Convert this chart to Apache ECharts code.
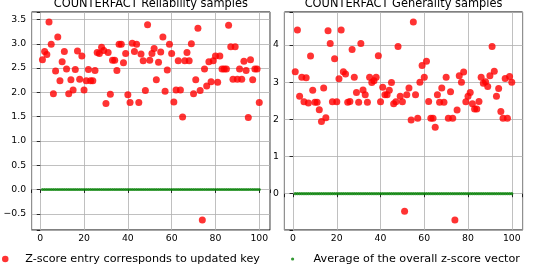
<!DOCTYPE html>
<html><head><meta charset="utf-8">
<script src="https://cdn.jsdelivr.net/npm/echarts@6/dist/echarts.min.js"></script>
<style>html,body{margin:0;padding:0;background:#fff}#c{width:535px;height:271px}</style>
</head><body><div id="c"></div>
<script>
// sample index (x positions 1..100)
const sampleIds = [];
for (let i = 1; i <= 100; i++) sampleIds.push(i);

// COUNTERFACT Reliability samples: z-score entry of updated key
const reliabilityZ = [
  2.67, 2.84, 2.78, 3.45, 2.99, 1.97, 2.44, 3.14, 2.24, 2.63,
  2.84, 2.48, 1.97, 2.26, 2.05, 2.47, 2.85, 2.27, 2.75, 2.05,
  2.24, 2.47, 2.24, 2.24, 2.45, 2.82, 2.80, 2.93, 2.86, 1.77,
  2.82, 1.96, 2.66, 2.66, 2.45, 2.99, 2.99, 2.61, 2.80, 1.95,
  1.79, 3.01, 2.84, 2.99, 1.79, 2.79, 2.65, 2.04, 3.39, 2.66,
  2.80, 2.90, 2.26, 2.62, 2.83, 3.14, 2.02, 2.46, 2.99, 2.80,
  1.80, 2.05, 2.65, 2.05, 1.49, 2.65, 2.82, 2.65, 3.00, 1.97,
  2.26, 3.32, 2.04, -0.63, 2.48, 2.13, 2.63, 2.22, 2.65, 2.75,
  2.21, 2.75, 2.48, 2.48, 2.48, 3.38, 2.94, 2.27, 2.94, 2.27,
  2.48, 2.27, 2.64, 2.45, 1.48, 2.67, 2.26, 2.48, 2.48, 1.79
];
// COUNTERFACT Generality samples: z-score entry of updated key
const generalityZ = [
  3.28, 4.40, 2.62, 3.13, 2.47, 3.12, 2.44, 3.70, 2.78, 2.46,
  2.46, 2.26, 1.94, 2.84, 2.04, 4.38, 4.04, 2.47, 3.63, 2.47,
  3.09, 4.40, 3.28, 3.22, 2.46, 2.48, 3.88, 3.13, 2.72, 2.46,
  4.04, 2.79, 2.66, 2.46, 3.13, 2.99, 3.04, 3.13, 3.71, 2.47,
  2.86, 2.66, 2.66, 2.78, 2.99, 2.42, 2.47, 3.96, 2.62, 2.47,
  -0.47, 2.66, 2.84, 1.98, 4.62, 2.66, 2.03, 3.00, 3.45, 3.13,
  3.56, 2.48, 2.03, 2.03, 1.79, 2.66, 2.46, 2.84, 2.46, 3.13,
  2.03, 2.74, 2.03, -0.71, 2.25, 3.17, 3.00, 3.27, 2.47, 2.62,
  2.72, 2.42, 2.28, 2.28, 2.48, 3.13, 2.97, 3.01, 2.88, 3.17,
  3.96, 3.29, 2.62, 2.83, 2.21, 2.03, 3.10, 2.03, 3.15, 3.00
];
// average of the overall z-score vector (same in both panels)
const reliabilityAvg = [
  0,0,0,0,0,0,0,0,0,0, 0,0,0,0,0,0,0,0,0,0, 0,0,0,0,0,0,0,0,0,0, 0,0,0,0,0,0,0,0,0,0,
  0,0,0,0,0,0,0,0,0,0, 0,0,0,0,0,0,0,0,0,0, 0,0,0,0,0,0,0,0,0,0, 0,0,0,0,0,0,0,0,0,0,
  0,0,0,0,0,0,0,0,0,0, 0,0,0,0,0,0,0,0,0,0
];
const generalityAvg = [
  0,0,0,0,0,0,0,0,0,0, 0,0,0,0,0,0,0,0,0,0, 0,0,0,0,0,0,0,0,0,0, 0,0,0,0,0,0,0,0,0,0,
  0,0,0,0,0,0,0,0,0,0, 0,0,0,0,0,0,0,0,0,0, 0,0,0,0,0,0,0,0,0,0, 0,0,0,0,0,0,0,0,0,0,
  0,0,0,0,0,0,0,0,0,0, 0,0,0,0,0,0,0,0,0,0
];
const panelTitles = ['COUNTERFACT Reliability samples', 'COUNTERFACT Generality samples'];
const seriesNames = ['Z-score entry corresponds to updated key', 'Average of the overall z-score vector'];

const FONT = 'DejaVu Sans';
function pad(vals) { // matplotlib-style 5% margins
  let mn = Math.min(...vals), mx = Math.max(...vals), r = mx - mn;
  return [mn - 0.05 * r, mx + 0.05 * r];
}
const xr = pad(sampleIds);
const yr1 = pad(reliabilityZ.concat(reliabilityAvg));
const yr2 = pad(generalityZ.concat(generalityAvg));

function fmt(step, dec) {
  return v => {
    const k = v / step;
    if (Math.abs(k - Math.round(k)) > 1e-6) return '';
    return (Math.round(k) * step).toFixed(dec).replace('-', '\u2212');
  };
}
function xAx(gi) {
  return {
    type: 'value', gridIndex: gi, min: xr[0], max: xr[1], splitNumber: 5,
    axisLine: {show: false},
    axisTick: {show: true, length: 3.5, lineStyle: {color: '#000', width: 0.8}},
    axisLabel: {color: '#000', fontSize: 9.3, fontFamily: FONT, margin: 4.5, formatter: fmt(20, 0)},
    splitLine: {show: true, lineStyle: {color: '#b0b0b0', width: 0.8}}
  };
}
function yAx(gi, r, split, step, dec) {
  return {
    type: 'value', gridIndex: gi, min: r[0], max: r[1], splitNumber: split,
    axisLine: {show: false},
    axisTick: {show: true, length: 3.5, lineStyle: {color: '#000', width: 0.8}},
    axisLabel: {color: '#000', fontSize: 9.3, fontFamily: FONT, margin: 5.5, formatter: fmt(step, dec)},
    splitLine: {show: true, lineStyle: {color: '#b0b0b0', width: 0.8}}
  };
}
const grids = [
  {left: 31.6, top: 12, width: 238.5, height: 218},
  {left: 284.4, top: 12, width: 238.2, height: 218}
].map(g => Object.assign(g, {show: true, borderColor: '#000', borderWidth: 1, backgroundColor: 'transparent'}));

function pts(vals) { return sampleIds.map((x, i) => [x, vals[i]]); }

const option = {
  animation: false,
  backgroundColor: '#fff',
  title: panelTitles.map((t, i) => ({
    text: t, left: grids[i].left + grids[i].width / 2, textAlign: 'center', top: -1, padding: 0,
    textStyle: {fontSize: 11.4, fontWeight: 'normal', color: '#000', fontFamily: FONT}
  })),
  legend: [
    {data: [seriesNames[0]], left: 2, top: 253.5, itemWidth: 30, itemHeight: 6.5, icon: 'circle', padding: 0,
     selectedMode: false, textStyle: {fontSize: 11.2, color: '#000', fontFamily: FONT}},
    {data: [seriesNames[1]], left: 291, top: 253.5, itemWidth: 32, itemHeight: 3.2, icon: 'circle', padding: 0,
     selectedMode: false, textStyle: {fontSize: 11.2, color: '#000', fontFamily: FONT}}
  ],
  grid: grids,
  xAxis: [xAx(0), xAx(1)],
  yAxis: [yAx(0, yr1, 8, 0.5, 1), yAx(1, yr2, 5, 1, 0)],
  series: [
    {type: 'scatter', name: seriesNames[0], xAxisIndex: 0, yAxisIndex: 0, data: pts(reliabilityZ),
     symbolSize: 7, itemStyle: {color: '#ff0000'}, silent: true},
    {type: 'scatter', name: seriesNames[1], xAxisIndex: 0, yAxisIndex: 0, data: pts(reliabilityAvg),
     symbolSize: 3.2, itemStyle: {color: '#008000'}, silent: true},
    {type: 'scatter', name: seriesNames[0], xAxisIndex: 1, yAxisIndex: 1, data: pts(generalityZ),
     symbolSize: 7, itemStyle: {color: '#ff0000'}, silent: true},
    {type: 'scatter', name: seriesNames[1], xAxisIndex: 1, yAxisIndex: 1, data: pts(generalityAvg),
     symbolSize: 3.2, itemStyle: {color: '#008000'}, silent: true}
  ]
};
echarts.init(document.getElementById('c'), null, {renderer: 'canvas'}).setOption(option);
</script>
</body></html>
